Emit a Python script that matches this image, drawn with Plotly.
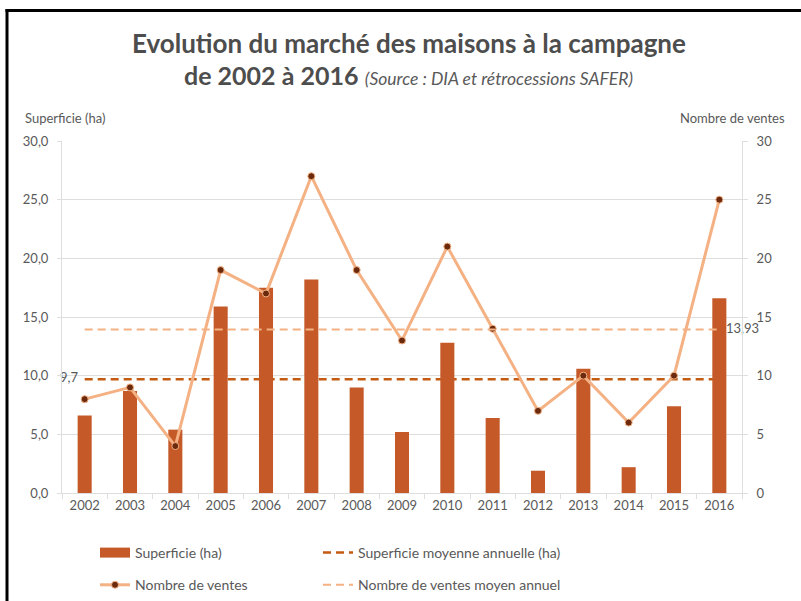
import plotly.graph_objects as go

# Data
years = [str(y) for y in range(2002, 2017)]
superficie_ha = [6.6, 8.7, 5.4, 15.9, 17.5, 18.2, 9.0, 5.2, 12.8, 6.4, 1.9, 10.6, 2.2, 7.4, 16.6]
nombre_ventes = [8, 9, 4, 19, 17, 27, 19, 13, 21, 14, 7, 10, 6, 10, 25]
superficie_moyenne = 9.7
ventes_moyenne = 13.93
left_ticks = [0, 5, 10, 15, 20, 25, 30]
right_ticks = [0, 5, 10, 15, 20, 25, 30]

BAR = "#C55A28"
DARK_AVG = "#C55A11"
LIGHT = "#F4B183"
DOT = "#6B2A0E"
GRID = "#DEDEDE"
TXT = "#595959"
FONT = "Lato"

W, H = 801, 601
ML, MR, MT, MB = 62, 59, 141, 108
PW, PH = W - ML - MR, H - MT - MB


def px_x(p):
    return (p - ML) / PW


def px_y(p):
    return (H - MB - p) / PH


def fr(v, nd):
    return f"{v:.{nd}f}".replace(".", ",")


n = len(years)
fig = go.Figure()

# Annual average area (primary axis, beneath the bars)
fig.add_trace(go.Scatter(
    x=years, y=[superficie_moyenne] * n, mode="lines+text",
    line=dict(color=DARK_AVG, width=2.5, dash="8px,5px"),
    text=[fr(superficie_moyenne, 1) + "  "] + [""] * (n - 1),
    textposition="middle left", textfont=dict(size=13, color=TXT, family=FONT),
    name="Superficie moyenne annuelle (ha)", legend="legend2",
    legendgroup="b1", yaxis="y", cliponaxis=False,
))

# Area bars
fig.add_trace(go.Bar(
    x=years, y=superficie_ha, marker=dict(color=BAR, line=dict(width=0)),
    width=0.31, showlegend=False, yaxis="y2", name="Superficie (ha)",
))

# Legend swatch for the bars
fig.add_trace(go.Scatter(
    x=[None], y=[None], mode="lines", line=dict(color=BAR, width=10),
    name="Superficie (ha)", legend="legend", legendgroup="a1", yaxis="y3",
))

# Number of sales (secondary axis)
fig.add_trace(go.Scatter(
    x=years, y=nombre_ventes, mode="lines+markers",
    line=dict(color=LIGHT, width=3),
    marker=dict(color=DOT, size=7, line=dict(color=LIGHT, width=1)),
    name="Nombre de ventes", legend="legend", legendgroup="a2", yaxis="y3",
))

# Annual average of sales
fig.add_trace(go.Scatter(
    x=years, y=[ventes_moyenne] * n, mode="lines+text",
    line=dict(color=LIGHT, width=2, dash="8px,5px"),
    text=[""] * (n - 1) + ["  " + fr(ventes_moyenne, 2)],
    textposition="middle right", textfont=dict(size=13, color=TXT, family=FONT),
    name="Nombre de ventes moyen annuel", legend="legend2",
    legendgroup="b2", yaxis="y3", cliponaxis=False,
))

axis_font = dict(size=13, color=TXT, family=FONT)
legend_font = dict(size=14, color=TXT, family=FONT)

fig.update_layout(
    width=W, height=H,
    margin=dict(l=ML, r=MR, t=MT, b=MB, autoexpand=False),
    paper_bgcolor="white", plot_bgcolor="white",
    font=dict(family=FONT, color=TXT),
    xaxis=dict(
        type="category", range=[-0.5, n - 0.5], showgrid=False, showline=True,
        linecolor=GRID, linewidth=1, ticks="outside", tickson="boundaries",
        ticklen=5, tickcolor=GRID, tickfont=axis_font, zeroline=False,
    ),
    yaxis=dict(
        range=[0, 30], tickvals=left_ticks, ticktext=[fr(v, 1) for v in left_ticks],
        showgrid=True, gridcolor=GRID, gridwidth=1, zeroline=False,
        showline=True, linecolor=GRID, ticks="outside", ticklen=4, tickcolor=GRID,
        tickfont=axis_font, ticklabelstandoff=6,
    ),
    yaxis2=dict(range=[0, 30], overlaying="y", visible=False),
    yaxis3=dict(
        range=[0, 30], overlaying="y", side="right", tickvals=right_ticks,
        ticktext=[str(v) for v in right_ticks], showgrid=False, zeroline=False,
        showline=True, linecolor=GRID, ticks="outside", ticklen=5, tickcolor=GRID,
        tickfont=axis_font, ticklabelstandoff=6,
    ),
    legend=dict(
        xref="container", yref="container", x=95 / W, y=1 - 537 / H,
        xanchor="left", yanchor="top", font=legend_font, traceorder="grouped",
        tracegroupgap=11, bgcolor="rgba(0,0,0,0)",
    ),
    legend2=dict(
        xref="container", yref="container", x=318 / W, y=1 - 537 / H,
        xanchor="left", yanchor="top", font=legend_font, traceorder="grouped",
        tracegroupgap=11, bgcolor="rgba(0,0,0,0)",
    ),
    annotations=[
        dict(text="<b>Evolution du marché des maisons à la campagne</b>",
             x=px_x(409), y=px_y(43), xref="paper", yref="paper", showarrow=False,
             xanchor="center", yanchor="middle",
             font=dict(size=26, color="#4D4D4D", family=FONT)),
        dict(text="<b>de 2002 à 2016</b> <i><span style='font-size:17.5px;color:#595959'>"
                  "(Source : DIA et rétrocessions SAFER)</span></i>",
             x=px_x(408), y=px_y(75), xref="paper", yref="paper", showarrow=False,
             xanchor="center", yanchor="middle",
             font=dict(size=25, color="#4D4D4D", family=FONT)),
        dict(text="Superficie (ha)", x=px_x(23), y=px_y(118), xref="paper", yref="paper",
             xanchor="left", yanchor="middle", showarrow=False,
             font=dict(size=13, color=TXT, family=FONT)),
        dict(text="Nombre de ventes", x=px_x(787), y=px_y(118), xref="paper", yref="paper",
             xanchor="right", yanchor="middle", showarrow=False,
             font=dict(size=13, color=TXT, family=FONT)),
    ],
    shapes=[
        dict(type="line", xref="paper", yref="paper", x0=px_x(5.5), x1=px_x(801),
             y0=px_y(10.5), y1=px_y(10.5), line=dict(color="black", width=3)),
        dict(type="line", xref="paper", yref="paper", x0=px_x(7), x1=px_x(7),
             y0=px_y(9), y1=px_y(601), line=dict(color="black", width=3)),
    ],
)

fig.write_html("out.html")
